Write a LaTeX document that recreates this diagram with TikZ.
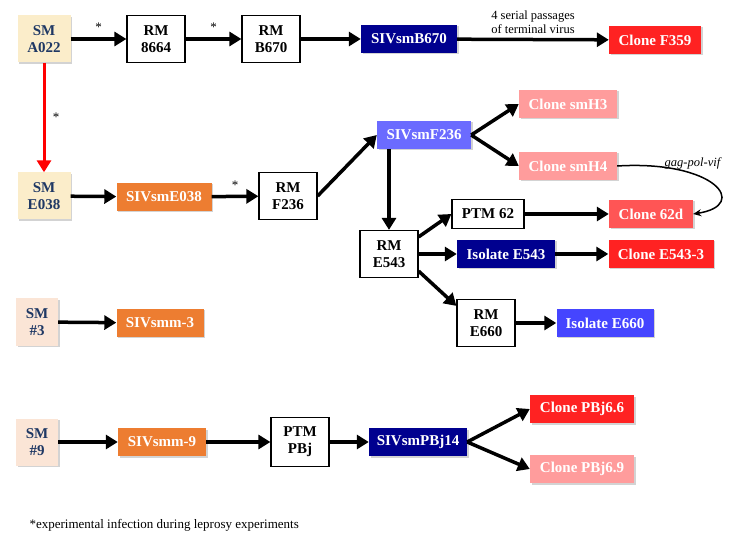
\documentclass[tikz,border=0pt]{standalone}
\usepackage{fontspec}
\setmainfont{Liberation Serif}
\usetikzlibrary{arrows.meta, shadows}
\definecolor{smtext}{HTML}{1F3864}
\definecolor{smyellow}{HTML}{FBEDCA}
\definecolor{smpeach}{HTML}{FBE5D6}
\definecolor{navy}{HTML}{00008F}
\definecolor{cred}{HTML}{FF2222}
\definecolor{csalmon}{HTML}{FF5555}
\definecolor{cpink}{HTML}{FF9C9C}
\definecolor{cslate}{HTML}{6B6BFF}
\definecolor{cblue}{HTML}{4545FF}
\definecolor{corange}{HTML}{ED7D31}
\tikzset{
    box/.style={inner sep=0pt, align=center, font=\bfseries\fontsize{15}{17}\selectfont},
    shade box/.style={box, drop shadow={shadow xshift=1.5pt, shadow yshift=-1.5pt, opacity=0.35}},
    rmbox/.style={box, draw, line width=1.2pt, fill=white, minimum width=58pt, minimum height=47pt},
    smbox/.style={shade box, fill=#1, text=smtext, minimum height=47pt},
    vbox/.style={shade box, fill=#1, text=white, minimum height=28pt},
    flow/.style={-{Triangle[length=12pt, width=14pt]}, line width=3.5pt},
    note/.style={font=\fontsize{13}{14.5}\selectfont, text=black}
}

\begin{document}
\begin{tikzpicture}[x=1pt, y=-1pt]
    \useasboundingbox (0,0) rectangle (739,545);

    \node[smbox=smyellow, minimum width=53pt] (a022) at (44,39) {SM\\A022};
    \node[rmbox] (rm8664) at (156,39) {RM\\8664};
    \node[rmbox] (rmb670) at (271,39) {RM\\B670};
    \node[vbox=navy, minimum width=96pt] (sivb670) at (409,39) {SIVsmB670};
    \node[vbox=cred, minimum width=92pt] (f359) at (655,40) {Clone F359};

    \node[smbox=smyellow, minimum width=53pt] (e038) at (44,196) {SM\\E038};
    \node[vbox=corange, minimum width=95pt] (sive038) at (164,197) {SIVsmE038};
    \node[rmbox] (rmf236) at (288,196) {RM\\F236};
    \node[vbox=cslate, minimum width=94pt] (sivf236) at (424,135) {SIVsmF236};
    \node[vbox=cpink, minimum width=98pt] (smh3) at (568,104) {Clone smH3};
    \node[vbox=cpink, minimum width=98pt] (smh4) at (568,166) {Clone smH4};
    \node[rmbox] (rme543) at (389,254) {RM\\E543};
    \node[rmbox, minimum width=72pt, minimum height=29pt] (ptm62) at (488,214) {PTM 62};
    \node[vbox=csalmon, minimum width=84pt] (c62d) at (651,214) {Clone 62d};
    \node[vbox=navy, minimum width=98pt] (ie543) at (506,254) {Isolate E543};
    \node[vbox=cred, minimum width=105pt] (ce543) at (661,254) {Clone E543-3};
    \node[rmbox] (rme660) at (486,323) {RM\\E660};
    \node[vbox=cblue, minimum width=97pt] (ie660) at (605,323) {Isolate E660};

    \node[smbox=smpeach, minimum width=42pt] (sm3) at (37,322) {SM\\\#3};
    \node[vbox=corange, minimum width=87pt] (sivmm3) at (160,323) {SIVsmm-3};

    \node[smbox=smpeach, minimum width=42pt] (sm9) at (37,442) {SM\\\#9};
    \node[vbox=corange, minimum width=88pt] (sivmm9) at (162,442) {SIVsmm-9};
    \node[rmbox, minimum height=49pt] (ptmpbj) at (300,442) {PTM\\PBj};
    \node[vbox=navy, minimum width=98pt] (sivpbj) at (418,442) {SIVsmPBj14};
    \node[vbox=cred, minimum width=104pt] (pbj66) at (582,409) {Clone PBj6.6};
    \node[vbox=cpink, minimum width=104pt] (pbj69) at (582,469) {Clone PBj6.9};

    \node[note, anchor=west] (foot) at (26,525) {*experimental infection during leprosy experiments};

    \draw[flow] (a022) -- node[note, above=2pt] {*} (rm8664);
    \draw[flow] (rm8664) -- node[note, above=2pt] {*} (rmb670);
    \draw[flow] (rmb670) -- (sivb670);
    \draw[flow] (sivb670) -- node[note, above=1pt, align=center, font=\fontsize{12.5}{14}\selectfont] {4 serial passages\\of terminal virus} (f359);
    \draw[flow, red, line width=3pt] (a022) -- node[note, right=4pt] {*} (e038);

    \draw[flow] (e038) -- (sive038);
    \draw[flow] (sive038) -- node[note, above=2pt] {*} (rmf236);
    \draw[flow] (rmf236.east) -- (sivf236.west);
    \draw[flow] (sivf236.east) -- (smh3.west);
    \draw[flow] (sivf236.east) -- (smh4.west);
    \draw[flow] (sivf236.south -| rme543) -- (rme543);
    \draw[flow] (rme543.30) -- (ptm62.west);
    \draw[flow] (rme543) -- (ie543);
    \draw[flow] (rme543.-30) -- (rme660.150);
    \draw[flow] (ptm62) -- (c62d);
    \draw[flow] (ie543) -- (ce543);
    \draw[flow] (rme660) -- (ie660);
    \draw[-{Stealth[length=8pt, width=7pt]}, line width=1.5pt] (smh4.east) .. controls (715,160) and (750,205) .. node[pos=0.33, above=0pt, font=\itshape\fontsize{12.5}{14}\selectfont] {gag-pol-vif} (c62d.east);

    \draw[flow] (sm3) -- (sivmm3);

    \draw[flow] (sm9) -- (sivmm9);
    \draw[flow] (sivmm9) -- (ptmpbj);
    \draw[flow] (ptmpbj) -- (sivpbj);
    \draw[flow] (sivpbj.east) -- (pbj66.west);
    \draw[flow] (sivpbj.east) -- (pbj69.west);
\end{tikzpicture}
\end{document}
